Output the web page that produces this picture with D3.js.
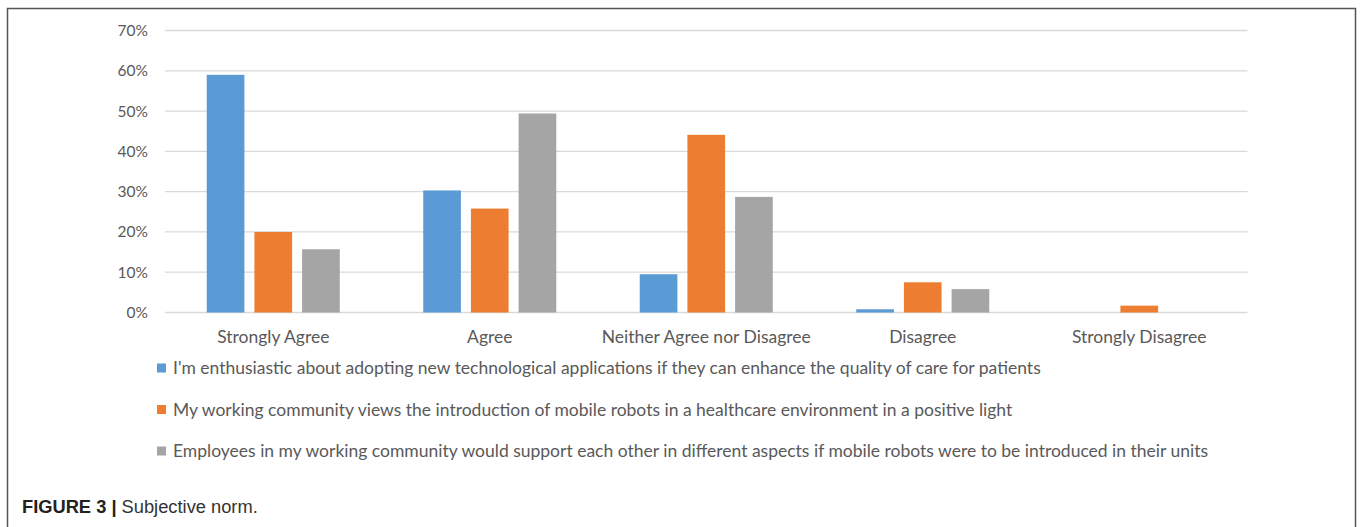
<!DOCTYPE html>
<html>
<head>
<meta charset="utf-8">
<script src="https://cdn.jsdelivr.net/npm/d3@7"></script>
<style>
  html, body { margin: 0; padding: 0; background: #fff; }
  svg { display: block; }
</style>
</head>
<body>
<svg id="chart" width="1360" height="527"></svg>
<script>
const categories = ["Strongly Agree", "Agree", "Neither Agree nor Disagree", "Disagree", "Strongly Disagree"];
const seriesNames = [
  "I'm enthusiastic about adopting new technological applications if they can enhance the quality of care for patients",
  "My working community views the introduction of mobile robots in a healthcare environment in a positive light",
  "Employees in my working community would support each other in different aspects if mobile robots were to be introduced in their units"
];
const enthusiastic = [59.0, 30.3, 9.5, 0.8, 0.0];
const community = [20.0, 25.8, 44.1, 7.5, 1.7];
const employees = [15.7, 49.4, 28.7, 5.8, 0.0];
const yTicks = [0, 10, 20, 30, 40, 50, 60, 70];
const colors = ["#5b9bd5", "#ed7d31", "#a5a5a5"];

const seriesValues = [enthusiastic, community, employees];
const svg = d3.select("#chart");

// outer frame
svg.append("rect").attr("x", 7.5).attr("y", 8.5).attr("width", 1348).attr("height", 540)
  .attr("fill", "none").attr("stroke", "#555").attr("stroke-width", 1.5);

const plot = { left: 165, right: 1247.5, top: 30.5, bottom: 312.5 };

const x = d3.scaleBand().domain(categories).range([plot.left, plot.right]).paddingInner(0).paddingOuter(0);
const xs = d3.scaleBand().domain(d3.range(3)).range([0, x.bandwidth()]).paddingInner(0.21).paddingOuter(0.875);
const y = d3.scaleLinear().domain([0, 70]).range([plot.bottom, plot.top]);

// gridlines
svg.append("g").selectAll("line").data(yTicks).join("line")
  .attr("x1", plot.left).attr("x2", plot.right)
  .attr("y1", d => y(d)).attr("y2", d => y(d))
  .attr("stroke", "#d9d9d9").attr("stroke-width", 1.3);

// y axis labels
const yAxis = d3.axisLeft(y).tickValues(yTicks).tickFormat(d => d + "%").tickSize(0).tickPadding(17);
const yg = svg.append("g").attr("transform", `translate(${plot.left},0)`).call(yAxis);
yg.select(".domain").remove();
yg.selectAll("text").attr("font-family", "Lato, 'Open Sans', sans-serif").attr("font-size", 15.5)
  .attr("fill", "#595959");

// bars
const groups = svg.append("g").selectAll("g").data(seriesValues).join("g")
  .attr("fill", (d, i) => colors[i]);
groups.each(function (vals, si) {
  d3.select(this).selectAll("rect").data(vals.map((v, ci) => ({ v, c: categories[ci] })))
    .join("rect")
    .filter(d => d.v > 0)
    .attr("x", d => x(d.c) + xs(si))
    .attr("width", xs.bandwidth())
    .attr("y", d => y(d.v))
    .attr("height", d => y(0) - y(d.v));
});

// x axis labels
const xAxis = d3.axisBottom(x).tickSize(0).tickPadding(18);
const xg = svg.append("g").attr("transform", `translate(0,${plot.bottom})`).call(xAxis);
xg.select(".domain").remove();
xg.selectAll("text").attr("font-family", "Lato, 'Open Sans', sans-serif").attr("font-size", 17.5)
  .attr("fill", "#595959");

// legend
const legend = svg.append("g").selectAll("g").data(seriesNames).join("g")
  .attr("transform", (d, i) => `translate(157,${368 + i * 41.5})`);
legend.append("rect").attr("x", 0).attr("y", -4.5).attr("width", 9).attr("height", 9)
  .attr("fill", (d, i) => colors[i]);
legend.append("text").attr("x", 16).attr("y", 0).attr("dy", "0.35em")
  .attr("font-family", "Lato, 'Open Sans', sans-serif").attr("font-size", 17.5)
  .attr("fill", "#595959").text(d => d);

// caption
const cap = svg.append("text").attr("x", 22).attr("y", 513)
  .attr("font-family", "'Liberation Sans', Arial, sans-serif").attr("font-size", 18.3).attr("fill", "#222");
cap.append("tspan").attr("font-weight", "bold").text("FIGURE 3 | ");
cap.append("tspan").attr("fill", "#333").text("Subjective norm.");
</script>
</body>
</html>
